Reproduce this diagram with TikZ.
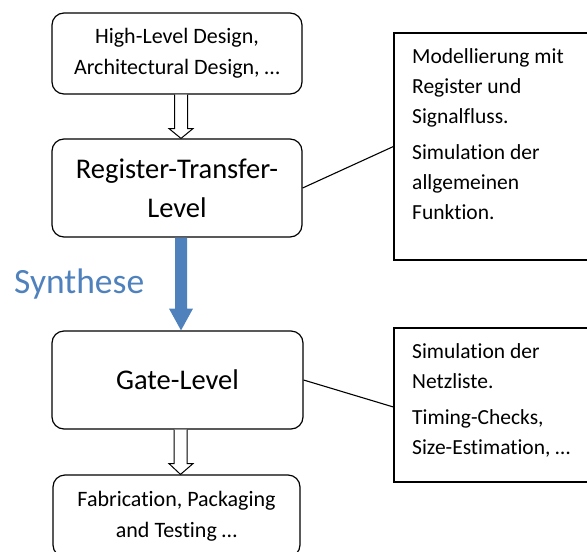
\documentclass[tikz,border=0pt]{standalone}
\usepackage{fontspec}
\setmainfont{Carlito}[Ligatures=NoCommon]
\usetikzlibrary{calc}
\definecolor{synblue}{HTML}{4F81BD}
\begin{document}
\begin{tikzpicture}[x=1pt,y=-1pt,
  lbox/.style={draw, rounded corners=12pt, line width=1.2pt, minimum width=250pt, align=center, inner sep=0pt},
  smalltxt/.style={font=\fontsize{22}{31}\selectfont},
  bigtxt/.style={font=\fontsize{28.5}{39}\selectfont},
  rbox/.style={draw, line width=1.2pt, inner sep=0pt},
  rtxt/.style={anchor=base west, inner sep=0pt, font=\fontsize{21.5}{30}\selectfont},
  hollow/.style={draw, fill=white, line width=1pt, line join=miter},
  link/.style={line width=1.1pt}]
\useasboundingbox (0,0) rectangle (587,552);
\clip (0,0) rectangle (587,552);

% left column
\node[lbox, smalltxt, minimum height=81pt] (b1) at (177,53.5) {High-Level Design,\\Architectural Design, …};
\node[lbox, bigtxt, minimum height=98pt] (b2) at (177,188) {Register-Transfer-\\Level};
\node[lbox, bigtxt, minimum height=98pt, minimum width=251pt] (b3) at (177.5,380) {Gate-Level};
\node[lbox, smalltxt, minimum height=82pt, minimum width=247pt] (b4) at (176.5,516) {Fabrication, Packaging\\and Testing …};

% hollow arrows
\draw[hollow] ($(b1.south)+(-2.5,0)$) -- ($(b1.south)+(-2.5,34)$) -- ($(b1.south)+(-8,34)$)
  -- ($(b2.north)+(4,0)$) -- ($(b1.south)+(16,34)$) -- ($(b1.south)+(10.5,34)$) -- ($(b1.south)+(10.5,0)$);
\draw[hollow] ($(b3.south)+(-3.5,0)$) -- ($(b3.south)+(-3.5,34)$) -- ($(b3.south)+(-8.5,34)$)
  -- ($(b4.north)+(4,0)$) -- ($(b3.south)+(15.5,34)$) -- ($(b3.south)+(9.5,34)$) -- ($(b3.south)+(9.5,0)$);

% synthesis arrow
\fill[synblue] ($(b2.south)+(-2,0)$) -- ($(b2.south)+(-2,71)$) -- ($(b2.south)+(-8,71)$)
  -- ($(b3.north)+(3.5,0)$) -- ($(b2.south)+(16,71)$) -- ($(b2.south)+(10,71)$) -- ($(b2.south)+(10,0)$) -- cycle;
\node[anchor=base west, inner sep=0pt, font=\fontsize{35.5}{40}\selectfont, text=synblue] (syn) at (14,293) {Synthese};

% right boxes
\node[rbox, minimum width=196pt, minimum height=227pt] (r1) at (492,146.5) {};
\node[rbox, minimum width=196pt, minimum height=154pt] (r2) at (492,405) {};

\node[rtxt] (r1a) at (412,63) {Modellierung mit};
\node[rtxt] (r1b) at (412,93) {Register und};
\node[rtxt] (r1c) at (412,123) {Signalfluss.};
\node[rtxt] (r1d) at (412,159) {Simulation der};
\node[rtxt] (r1e) at (412,189) {allgemeinen};
\node[rtxt] (r1f) at (412,219) {Funktion.};

\node[rtxt] (r2a) at (412,358) {Simulation der};
\node[rtxt] (r2b) at (412,388) {Netzliste.};
\node[rtxt] (r2c) at (412,424) {Timing-Checks,};
\node[rtxt] (r2d) at (412,454) {Size-Estimation, …};

% connectors
\draw[link] (b2.east) -- (r1.west);
\draw[link] (b3.east) -- ($(r2.west)+(0,2)$);
\end{tikzpicture}
\end{document}
